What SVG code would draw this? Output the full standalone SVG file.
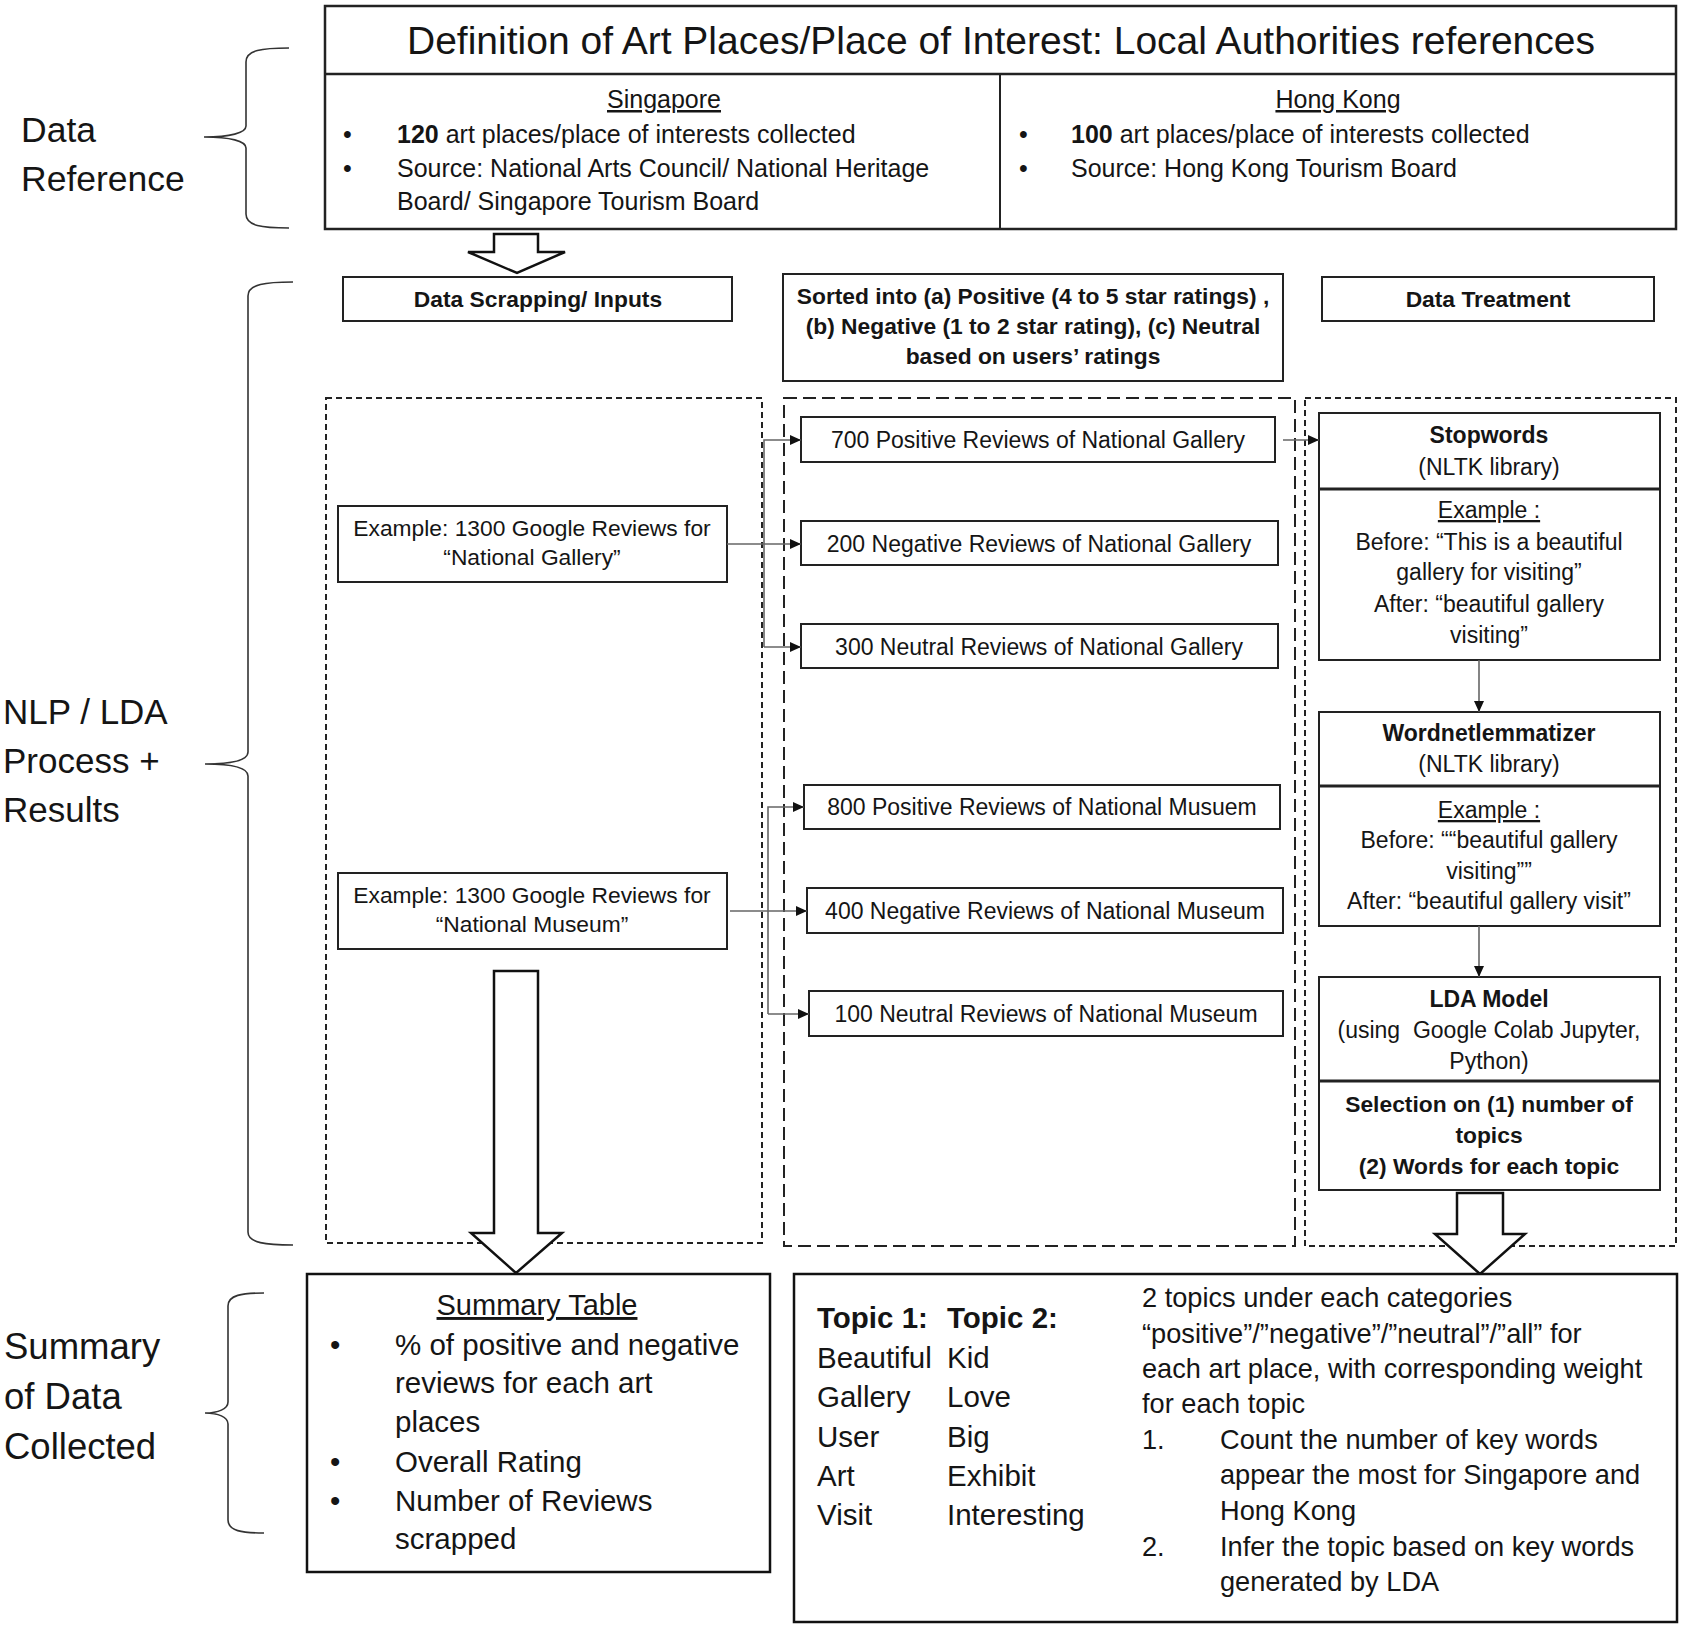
<svg xmlns="http://www.w3.org/2000/svg" width="1683" height="1628" viewBox="0 0 1683 1628">
<defs>
<style>
text{font-family:"Liberation Sans",Arial,sans-serif;fill:#151515}
.c{text-anchor:middle}
.b{font-weight:bold}
.u{text-decoration:underline}
.box{fill:#fff;stroke:#222;stroke-width:2}
.dS{fill:none;stroke:#222;stroke-width:2;stroke-dasharray:6 4}
.dL{fill:none;stroke:#222;stroke-width:2;stroke-dasharray:13 6}
.conn{fill:none;stroke:#666;stroke-width:1.6}
.brace{fill:none;stroke:#333;stroke-width:1.6}
.harrow{fill:#fff;stroke:#111;stroke-width:2.5;stroke-linejoin:miter}
.f25{font-size:25px}
.f23{font-size:23px}
.f22{font-size:22.8px}
</style>
<marker id="ah" markerUnits="userSpaceOnUse" markerWidth="11" markerHeight="10" refX="11" refY="5" orient="auto">
<path d="M0,0 L11,5 L0,10 z" fill="#111"/>
</marker>
</defs>
<rect width="1683" height="1628" fill="#fff"/>

<g id="side-labels">
<text x="21" y="142" font-size="35.5">Data</text>
<text x="21" y="191" font-size="35.5">Reference</text>
<text x="3" y="724" font-size="35">NLP / LDA</text>
<text x="3" y="773" font-size="35">Process +</text>
<text x="3" y="822" font-size="35">Results</text>
<text x="4" y="1359" font-size="36.5">Summary</text>
<text x="4" y="1409" font-size="36.5">of Data</text>
<text x="4" y="1459" font-size="36.5">Collected</text>
<path class="brace" d="M289,48 C262,48 246,50 246,62 L246,126 C246,133 230,137 204,137 C230,137 246,141 246,148 L246,214 C246,226 262,228 289,228"/>
<path class="brace" d="M293,282 C266,282 248,284 248,296 L248,752 C248,760 232,764 205,764 C232,764 248,768 248,776 L248,1232 C248,1243 266,1245 293,1245"/>
<path class="brace" d="M264,1293 C242,1293 228,1295 228,1306 L228,1402 C228,1409 218,1413 205,1413 C218,1413 228,1417 228,1424 L228,1520 C228,1531 242,1533 264,1533"/>
</g>

<g id="definition">
<rect x="325" y="6" width="1351" height="223" fill="#fff" stroke="#222" stroke-width="2.5"/>
<line x1="325" y1="74" x2="1676" y2="74" stroke="#222" stroke-width="2.5"/>
<line x1="1000" y1="74" x2="1000" y2="229" stroke="#222" stroke-width="2"/>
<text class="c" x="1001" y="54" font-size="39">Definition of Art Places/Place of Interest: Local Authorities references</text>
<text class="c u f25" x="664" y="108">Singapore</text>
<text class="f25" x="343" y="143">•</text>
<text class="f25" x="397" y="143"><tspan class="b">120</tspan> art places/place of interests collected</text>
<text class="f25" x="343" y="177">•</text>
<text class="f25" x="397" y="177">Source: National Arts Council/ National Heritage</text>
<text class="f25" x="397" y="210">Board/ Singapore Tourism Board</text>
<text class="c u f25" x="1338" y="108">Hong Kong</text>
<text class="f25" x="1019" y="143">•</text>
<text class="f25" x="1071" y="143"><tspan class="b">100</tspan> art places/place of interests collected</text>
<text class="f25" x="1019" y="177">•</text>
<text class="f25" x="1071" y="177">Source: Hong Kong Tourism Board</text>
</g>

<g id="headers">
<rect class="box" x="343" y="277" width="389" height="44"/>
<text class="c b f22" x="538" y="307">Data Scrapping/ Inputs</text>
<rect class="box" x="783" y="274" width="500" height="107"/>
<text class="c b f22" x="1033" y="304">Sorted into (a) Positive (4 to 5 star ratings) ,</text>
<text class="c b f22" x="1033" y="334">(b) Negative (1 to 2 star rating), (c) Neutral</text>
<text class="c b f22" x="1033" y="364">based on users’ ratings</text>
<rect class="box" x="1322" y="277" width="332" height="44"/>
<text class="c b f22" x="1488" y="307">Data Treatment</text>
</g>

<g id="containers">
<rect class="dS" x="326" y="398" width="436" height="845"/>
<rect class="dL" x="784" y="398" width="511" height="848"/>
<rect class="dS" x="1305" y="398" width="371" height="848"/>
</g>

<g id="input-gallery">
<rect class="box" x="338" y="506" width="389" height="76"/>
<text class="c f22" x="532" y="536">Example: 1300 Google Reviews for</text>
<text class="c f22" x="532" y="565">“National Gallery”</text>
</g>
<g id="input-museum">
<rect class="box" x="338" y="873" width="389" height="76"/>
<text class="c f22" x="532" y="903">Example: 1300 Google Reviews for</text>
<text class="c f22" x="532" y="932">“National Museum”</text>
</g>

<g id="sorted-gallery-positive">
<rect class="box" x="801" y="417" width="474" height="45"/>
<text class="c f23" x="1038" y="448">700 Positive Reviews of National Gallery</text>
</g>
<g id="sorted-gallery-negative">
<rect class="box" x="801" y="521" width="477" height="44"/>
<text class="c f23" x="1039" y="552">200 Negative Reviews of National Gallery</text>
</g>
<g id="sorted-gallery-neutral">
<rect class="box" x="801" y="624" width="477" height="44"/>
<text class="c f23" x="1039" y="655">300 Neutral Reviews of National Gallery</text>
</g>
<g id="sorted-museum-positive">
<rect class="box" x="804" y="785" width="476" height="44"/>
<text class="c f23" x="1042" y="815">800 Positive Reviews of National Musuem</text>
</g>
<g id="sorted-museum-negative">
<rect class="box" x="807" y="888" width="476" height="45"/>
<text class="c f23" x="1045" y="919">400 Negative Reviews of National Museum</text>
</g>
<g id="sorted-museum-neutral">
<rect class="box" x="809" y="991" width="474" height="45"/>
<text class="c f23" x="1046" y="1022">100 Neutral Reviews of National Museum</text>
</g>

<g id="stopwords">
<rect class="box" x="1319" y="413" width="341" height="76"/>
<rect class="box" x="1319" y="489" width="341" height="171"/>
<line x1="1319" y1="489" x2="1660" y2="489" stroke="#222" stroke-width="3"/>
<text class="c b f23" x="1489" y="443">Stopwords</text>
<text class="c f23" x="1489" y="475">(NLTK library)</text>
<text class="c u f23" x="1489" y="518">Example :</text>
<text class="c f23" x="1489" y="550">Before: “This is a beautiful</text>
<text class="c f23" x="1489" y="580">gallery for visiting”</text>
<text class="c f23" x="1489" y="612">After: “beautiful gallery</text>
<text class="c f23" x="1489" y="643">visiting”</text>
</g>

<g id="wordnet">
<rect class="box" x="1319" y="712" width="341" height="74"/>
<rect class="box" x="1319" y="786" width="341" height="140"/>
<line x1="1319" y1="786" x2="1660" y2="786" stroke="#222" stroke-width="3"/>
<text class="c b f23" x="1489" y="741">Wordnetlemmatizer</text>
<text class="c f23" x="1489" y="772">(NLTK library)</text>
<text class="c u f23" x="1489" y="818">Example :</text>
<text class="c f23" x="1489" y="848">Before: ““beautiful gallery</text>
<text class="c f23" x="1489" y="879">visiting””</text>
<text class="c f23" x="1489" y="909">After: “beautiful gallery visit”</text>
</g>

<g id="lda">
<rect class="box" x="1319" y="977" width="341" height="104"/>
<rect class="box" x="1319" y="1081" width="341" height="109"/>
<line x1="1319" y1="1081" x2="1660" y2="1081" stroke="#222" stroke-width="3"/>
<text class="c b f23" x="1489" y="1007">LDA Model</text>
<text class="c f23" x="1489" y="1038" xml:space="preserve">(using  Google Colab Jupyter,</text>
<text class="c f23" x="1489" y="1069">Python)</text>
<text class="c b f22" x="1489" y="1112">Selection on (1) number of</text>
<text class="c b f22" x="1489" y="1143">topics</text>
<text class="c b f22" x="1489" y="1174">(2) Words for each topic</text>
</g>

<g id="connectors">
<path class="conn" d="M727,544 H801" marker-end="url(#ah)"/>
<path class="conn" d="M764,647 V440 H801" marker-end="url(#ah)"/>
<path class="conn" d="M764,647 H801" marker-end="url(#ah)"/>
<path class="conn" d="M730,911 H807" marker-end="url(#ah)"/>
<path class="conn" d="M768,1014 V807 H804" marker-end="url(#ah)"/>
<path class="conn" d="M768,1014 H809" marker-end="url(#ah)"/>
<path class="conn" d="M1283,440 H1319" marker-end="url(#ah)"/>
<path class="conn" d="M1479,660 V712" marker-end="url(#ah)"/>
<path class="conn" d="M1479,926 V977" marker-end="url(#ah)"/>
<polygon class="harrow" points="494,234 538,234 538,252 565,252 517,273 468,252 494,252"/>
<polygon class="harrow" points="494,971 538,971 538,1233 562,1233 516,1273 471,1233 494,1233"/>
<polygon class="harrow" points="1457,1193 1503,1193 1503,1234 1525,1234 1480,1274 1435,1234 1457,1234"/>
</g>

<g id="summary-table">
<rect x="307" y="1274" width="463" height="298" fill="#fff" stroke="#111" stroke-width="2.5"/>
<text class="c u" x="537" y="1315" font-size="29">Summary Table</text>
<g font-size="29.5">
<text x="330" y="1355">•</text>
<text x="395" y="1355">% of positive and negative</text>
<text x="395" y="1393">reviews for each art</text>
<text x="395" y="1432">places</text>
<text x="330" y="1472">•</text>
<text x="395" y="1472">Overall Rating</text>
<text x="330" y="1511">•</text>
<text x="395" y="1511">Number of Reviews</text>
<text x="395" y="1549">scrapped</text>
</g>
</g>

<g id="topics">
<rect x="794" y="1274" width="883" height="348" fill="#fff" stroke="#111" stroke-width="2.5"/>
<g font-size="29.5">
<text class="b" x="817" y="1328">Topic 1:</text>
<text class="b" x="947" y="1328">Topic 2:</text>
<text x="817" y="1368">Beautiful</text>
<text x="947" y="1368">Kid</text>
<text x="817" y="1407">Gallery</text>
<text x="947" y="1407">Love</text>
<text x="817" y="1447">User</text>
<text x="947" y="1447">Big</text>
<text x="817" y="1486">Art</text>
<text x="947" y="1486">Exhibit</text>
<text x="817" y="1525">Visit</text>
<text x="947" y="1525">Interesting</text>
</g>
<g font-size="27.2">
<text x="1142" y="1307">2 topics under each categories</text>
<text x="1142" y="1343">“positive”/”negative”/”neutral”/”all” for</text>
<text x="1142" y="1378">each art place, with corresponding weight</text>
<text x="1142" y="1413">for each topic</text>
<text x="1142" y="1449">1.</text>
<text x="1220" y="1449">Count the number of key words</text>
<text x="1220" y="1484">appear the most for Singapore and</text>
<text x="1220" y="1520">Hong Kong</text>
<text x="1142" y="1556">2.</text>
<text x="1220" y="1556">Infer the topic based on key words</text>
<text x="1220" y="1591">generated by LDA</text>
</g>
</g>
</svg>
